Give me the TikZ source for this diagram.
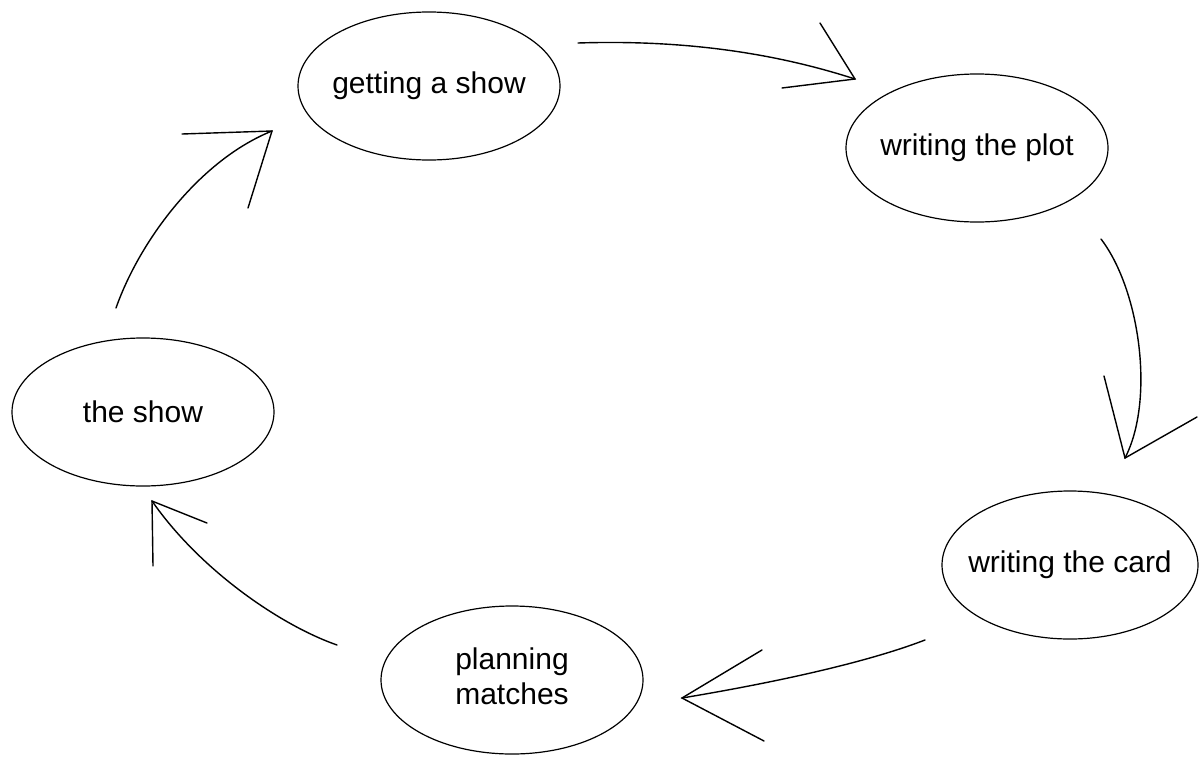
\documentclass[tikz,border=0pt]{standalone}
\usepackage{fontspec}
\setmainfont{Liberation Sans}
\usetikzlibrary{shapes.geometric}
\newcommand\zerow[1]{\makebox[0pt]{#1}}
\begin{document}
\begin{tikzpicture}[x=1pt,y=-1pt,
  stage/.style={ellipse, draw, line width=1.2pt, inner sep=0pt,
    minimum width=262pt, minimum height=148pt,
    font=\fontsize{30}{35}\selectfont},
  flow/.style={line width=1.4pt, line cap=round},
  headline/.style={line width=1.4pt, line cap=round}]
\useasboundingbox (0,0) rectangle (1202,758);
\fill[white] (0,0) rectangle (1202,758);

\node[stage] (get)  at (429,86)  {\zerow{getting a show}};
\node[stage] (plot) at (977,148) {\zerow{writing the plot}};
\node[stage, minimum width=256pt] (card) at (1070,565) {\zerow{writing the card}};
\node[stage] (plan) at (512,680) {\zerow{\begin{tabular}{@{}c@{}}planning\\matches\end{tabular}}};
\node[stage] (show) at (143,412) {\zerow{the show}};

% arrow 1: getting a show -> writing the plot
\coordinate (a1s) at (578,43);
\coordinate (a1t) at (855,79);
\coordinate (a1u) at (820,23);
\coordinate (a1l) at (782,88);
\draw[flow] (a1s) .. controls (700,39) and (790,58) .. (a1t);
\draw[headline] (a1u) -- (a1t) -- (a1l);

% arrow 2: writing the plot -> writing the card
\coordinate (a2s) at (1101,239);
\coordinate (a2t) at (1125,458);
\coordinate (a2u) at (1104,376);
\coordinate (a2l) at (1197,417);
\draw[flow] (a2s) .. controls (1140,290) and (1155,400) .. (a2t);
\draw[headline] (a2u) -- (a2t) -- (a2l);

% arrow 3: writing the card -> planning matches
\coordinate (a3s) at (925,640);
\coordinate (a3t) at (682,698);
\coordinate (a3u) at (762,650);
\coordinate (a3l) at (764,741);
\draw[flow] (a3s) .. controls (860,665) and (760,685) .. (a3t);
\draw[headline] (a3u) -- (a3t) -- (a3l);

% arrow 4: planning matches -> the show
\coordinate (a4s) at (337,645);
\coordinate (a4t) at (152,501);
\coordinate (a4u) at (207,523);
\coordinate (a4l) at (153,566);
\draw[flow] (a4s) .. controls (280,625) and (200,570) .. (a4t);
\draw[headline] (a4u) -- (a4t) -- (a4l);

% arrow 5: the show -> getting a show
\coordinate (a5s) at (116,308);
\coordinate (a5t) at (272,131);
\coordinate (a5u) at (182,134);
\coordinate (a5l) at (248,208);
\draw[flow] (a5s) .. controls (140,240) and (200,160) .. (a5t);
\draw[headline] (a5u) -- (a5t) -- (a5l);
\end{tikzpicture}
\end{document}
